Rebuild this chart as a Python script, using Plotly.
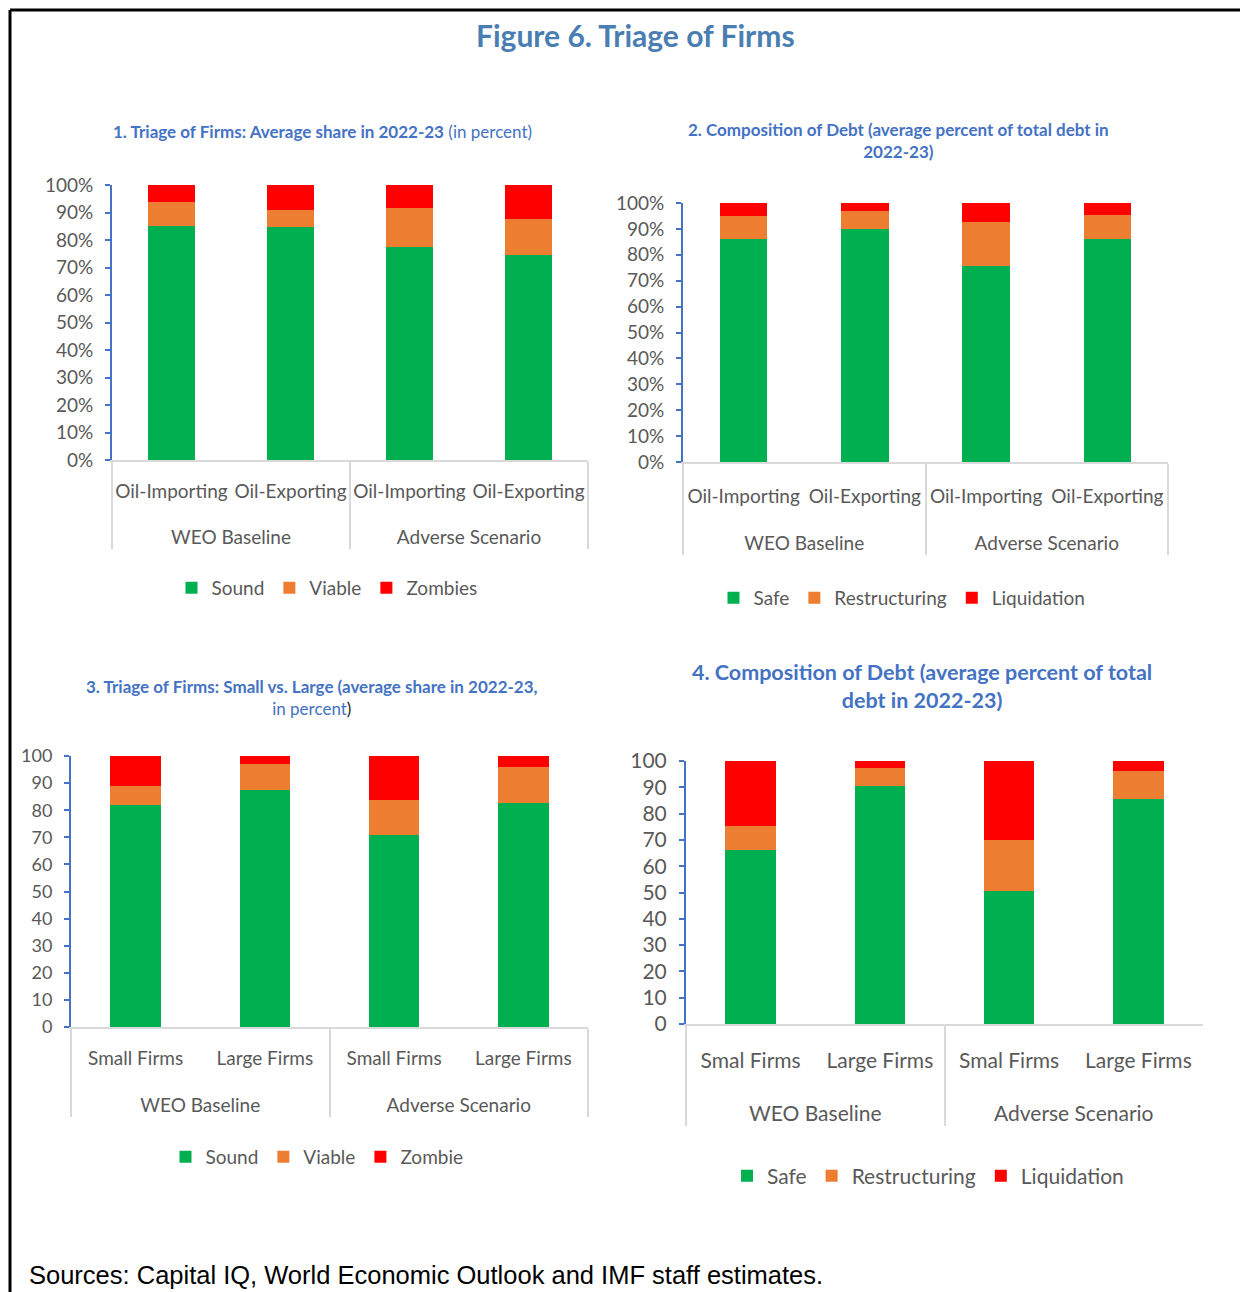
import plotly.graph_objects as go

# page geometry (reference pixel coordinates are mapped into the figure)
OX, OY = 8, 8
FW, FH = 1232, 1284
def fx(x): return (x - OX) / FW
def fy(y): return 1 - (y - OY) / FH

# ---------------- data ----------------
groups = ["WEO Baseline", "WEO Baseline", "Adverse Scenario", "Adverse Scenario"]
cats_oil = ["Oil-Importing", "Oil-Exporting", "Oil-Importing", "Oil-Exporting"]
cats_size3 = ["Small Firms", "Large Firms", "Small Firms", "Large Firms"]
cats_size4 = ["Smal Firms", "Large Firms", "Smal Firms", "Large Firms"]

# Panel 1: triage of firms (percent)
p1_sound = [85.0, 84.6, 77.5, 74.4]
p1_viable = [8.8, 6.4, 14.0, 13.3]
p1_zombies = [6.2, 9.0, 8.5, 12.3]

# Panel 2: composition of debt (percent)
p2_safe = [86.0, 90.1, 75.5, 86.0]
p2_restr = [8.9, 6.8, 17.2, 9.2]
p2_liq = [5.1, 3.1, 7.3, 4.8]

# Panel 3: triage small vs large
p3_sound = [82.0, 87.6, 70.7, 82.5]
p3_viable = [7.1, 9.5, 13.1, 13.6]
p3_zombie = [10.9, 2.9, 16.2, 3.9]

# Panel 4: composition of debt small vs large
p4_safe = [66.1, 90.6, 50.4, 85.5]
p4_restr = [9.3, 6.9, 19.4, 10.6]
p4_liq = [24.6, 2.5, 30.2, 3.9]

yticks = list(range(0, 101, 10))

GREEN, ORANGE, RED = "#00b050", "#ed7d31", "#ff0000"
BLUE = "#4472c4"
GRAY = "#595959"
FONT = "Lato, Roboto, sans-serif"

fig = go.Figure()

panels = [
    dict(ax="", cats=cats_oil, series=[("Sound", p1_sound, GREEN), ("Viable", p1_viable, ORANGE), ("Zombies", p1_zombies, RED)],
         x=(112, 588), y=(185, 460), suffix="%", fs=19, yfs=19, lfs=19, legend="legend", ly=588, lx=327, so=13, sp=48),
    dict(ax="2", cats=cats_oil, series=[("Safe", p2_safe, GREEN), ("Restructuring", p2_restr, ORANGE), ("Liquidation", p2_liq, RED)],
         x=(683, 1168), y=(203, 462), suffix="%", fs=19, yfs=19, lfs=19, legend="legend2", ly=598, lx=902, so=16, sp=51),
    dict(ax="3", cats=cats_size3, series=[("Sound", p3_sound, GREEN), ("Viable", p3_viable, ORANGE), ("Zombie", p3_zombie, RED)],
         x=(71, 588), y=(756, 1027), suffix="", fs=19, yfs=18, lfs=19, legend="legend3", ly=1157, lx=317, so=13, sp=49),
    dict(ax="4", cats=cats_size4, series=[("Safe", p4_safe, GREEN), ("Restructuring", p4_restr, ORANGE), ("Liquidation", p4_liq, RED)],
         x=(686, 1203), y=(761, 1024), suffix="", fs=21, yfs=21, lfs=21, legend="legend4", ly=1176, lx=928, so=17, sp=57),
]

layout = {}
for p in panels:
    a = p["ax"]
    # a blank second line sets the spacing between the two category levels
    inner = [f"{c}<br><span style='font-size:{p['sp']}px'>\u00a0</span>" for c in p["cats"]]
    for name, vals, col in p["series"]:
        fig.add_trace(go.Bar(
            x=[groups, inner], y=vals, name=name, marker=dict(color=col, line=dict(width=0)),
            xaxis="x" + a, yaxis="y" + a, legend=p["legend"], hoverinfo="y+name",
        ))
    layout["xaxis" + a] = dict(
        domain=[fx(p["x"][0]), fx(p["x"][1])], anchor="y" + a, type="multicategory",
        showline=True, linecolor="#d9d9d9", linewidth=2, showgrid=False, zeroline=False,
        showdividers=True, dividercolor="#d9d9d9", dividerwidth=2, tickangle=0,
        ticks="", ticklabelstandoff=p["so"],
        tickfont=dict(family=FONT, size=p["fs"], color=GRAY),
    )
    layout["yaxis" + a] = dict(
        domain=[fy(p["y"][1]), fy(p["y"][0])], anchor="x" + a, range=[0, 100],
        tickvals=yticks, ticktext=[f"{v}{p['suffix']}" for v in yticks],
        showline=True, linecolor=BLUE, linewidth=2, ticklabelstandoff=8,
        ticks="outside", tickcolor=BLUE, ticklen=5, tickwidth=2, showgrid=False, zeroline=False,
        tickfont=dict(family=FONT, size=p["yfs"], color=GRAY),
    )
    layout[p["legend"]] = dict(
        orientation="h", x=fx(p["lx"]), y=fy(p["ly"]), xanchor="center", yanchor="middle",
        font=dict(family=FONT, size=p["lfs"], color=GRAY),
        bgcolor="rgba(0,0,0,0)", traceorder="normal", itemwidth=30,
    )

fig.update_layout(**layout)

TFONT = "Lato, Roboto, sans-serif"
annotations = [
    dict(text="<b>Figure 6. Triage of Firms</b>", x=fx(635), y=fy(35), font=dict(family=TFONT, size=30, color="#4a7eb3")),
    dict(text="<b>1. Triage of Firms: Average share in 2022-23</b> (in percent)", x=fx(322), y=fy(131),
         font=dict(family=TFONT, size=17, color=BLUE)),
    dict(text="<b>2. Composition of Debt (average percent of total debt in<br>2022-23)</b>", x=fx(898), y=fy(141),
         font=dict(family=TFONT, size=17, color=BLUE)),
    dict(text="<b>3. Triage of Firms: Small vs. Large (average share in 2022-23,</b><br>in percent<span style='color:#222222'>)</span>",
         x=fx(312), y=fy(697), font=dict(family=TFONT, size=17, color=BLUE)),
    dict(text="<b>4. Composition of Debt (average percent of total<br>debt in 2022-23)</b>", x=fx(922), y=fy(686),
         font=dict(family=TFONT, size=21.5, color=BLUE)),
    dict(text="Sources: Capital IQ, World Economic Outlook and IMF staff estimates.", x=fx(27), y=fy(1275),
         xanchor="left", font=dict(family="Liberation Sans, Arial, sans-serif", size=25.5, color="#000000")),
]
for an in annotations:
    an.setdefault("xanchor", "center")
    an.update(xref="paper", yref="paper", yanchor="middle", showarrow=False)

fig.update_layout(
    annotations=annotations,
    width=FW, height=FH, margin=dict(l=0, r=0, t=0, b=0, autoexpand=False),
    paper_bgcolor="white", plot_bgcolor="white", barmode="stack", bargap=0.61,
    shapes=[
        dict(type="line", xref="paper", yref="paper", x0=fx(10), x1=1.01, y0=fy(10), y1=fy(10), line=dict(color="black", width=3)),
        dict(type="line", xref="paper", yref="paper", x0=fx(10), x1=fx(10), y0=fy(10), y1=-0.01, line=dict(color="black", width=3)),
    ],
)

fig.write_html("out.html")
